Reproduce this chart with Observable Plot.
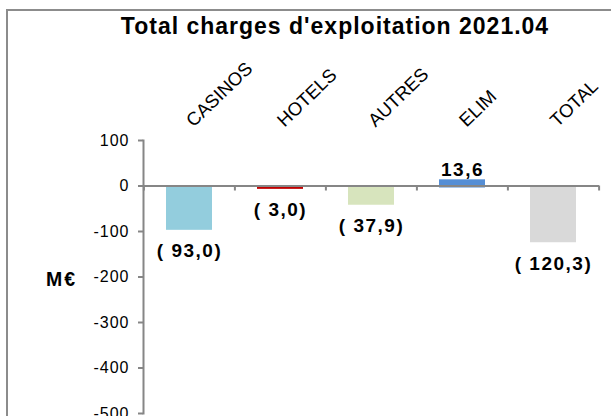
<!DOCTYPE html>
<html><head><meta charset="utf-8">
<script src="https://cdn.jsdelivr.net/npm/d3@7"></script>
<script src="https://cdn.jsdelivr.net/npm/@observablehq/plot@0.6"></script>
<style>
body{margin:0;width:611px;height:416px;overflow:hidden;background:#fff;position:relative;font-family:"Liberation Sans",Arial,sans-serif}
#frame{position:absolute;left:6px;top:9px;width:720px;height:520px;border:2px solid #8c8c8c;box-sizing:border-box}
#title{position:absolute;left:0;top:13px;width:670px;text-align:center;font-size:23px;line-height:26px;letter-spacing:1px;font-weight:bold;color:#000;z-index:2}
#chart{position:absolute;left:0;top:0}
</style></head><body>
<div id="frame"></div>
<div id="title">Total charges d'exploitation 2021.04</div>
<div id="chart"></div>
<script>
const categories = ["CASINOS", "HOTELS", "AUTRES", "ELIM", "TOTAL"];
const values = [-93.0, -3.0, -37.9, 13.6, -120.3];
const valueLabels = ["( 93,0)", "( 3,0)", "( 37,9)", "13,6", "( 120,3)"];
const barColors = ["#93CDDD", "#C00000", "#D7E4BD", "#558ED5", "#D9D9D9"];
const yTicks = [100, 0, -100, -200, -300, -400, -500];
const unitLabel = "M€";

const data = categories.map((c, i) => ({cat: c, value: values[i], label: valueLabels[i], color: barColors[i]}));
const axisGray = "#868686";
const halfStep = (599 - 143) / categories.length / 2;

const chart = Plot.plot({
  width: 611,
  height: 416,
  marginLeft: 143,
  marginRight: 12,
  marginTop: 140,
  marginBottom: 3,
  style: {fontFamily: "'Liberation Sans', Arial, sans-serif", background: "transparent", overflow: "visible"},
  x: {domain: categories, paddingInner: 0.5, paddingOuter: 0.25, axis: null},
  y: {domain: [-500, 100], axis: null},
  color: {type: "identity"},
  marks: [
    Plot.barY(data, {x: "cat", y: "value", fill: "color", insetBottom: -2}),
    Plot.frame({anchor: "left", stroke: axisGray, strokeWidth: 2}),
    Plot.ruleY([0], {stroke: axisGray, strokeWidth: 2}),
    Plot.ruleX(categories, {x: d => d, dx: -halfStep, y1: 0, y2: -11, stroke: axisGray, strokeWidth: 2}),
    Plot.ruleX(categories.slice(-1), {x: d => d, dx: halfStep, y1: 0, y2: -11, stroke: axisGray, strokeWidth: 2}),
    Plot.axisY({ticks: yTicks, tickSize: 5, tickPadding: 9, fontSize: 16, stroke: axisGray, strokeWidth: 2, fill: "#000", label: null, tickFormat: d => String(d)}),
    Plot.axisX({anchor: "top", tickSize: 0, tickPadding: 17, tickRotate: -44, textAnchor: "start", fontSize: 18.5, fill: "#000", label: null}),
    Plot.text(data.filter(d => d.value < 0), {x: "cat", y: "value", text: "label", fontSize: 19, fontWeight: "bold", fill: "#000", dy: 23, lineAnchor: "middle"}),
    Plot.text(data.filter(d => d.value >= 0), {x: "cat", y: "value", text: "label", fontSize: 19, fontWeight: "bold", fill: "#000", dy: -10, lineAnchor: "middle"}),
    Plot.text([unitLabel], {frameAnchor: "left", dx: -82, dy: 3, textAnchor: "middle", fontSize: 19.5, fontWeight: "bold", fill: "#000"})
  ]
});
document.getElementById("chart").appendChild(chart);
chart.querySelectorAll('[font-size="19"]').forEach(e => e.setAttribute("letter-spacing", "1.5"));
chart.querySelectorAll('[font-size="19.5"]').forEach(e => e.setAttribute("letter-spacing", "2"));
chart.querySelectorAll('[font-size="16"]').forEach(e => e.setAttribute("letter-spacing", "1"));
</script>
</body></html>
